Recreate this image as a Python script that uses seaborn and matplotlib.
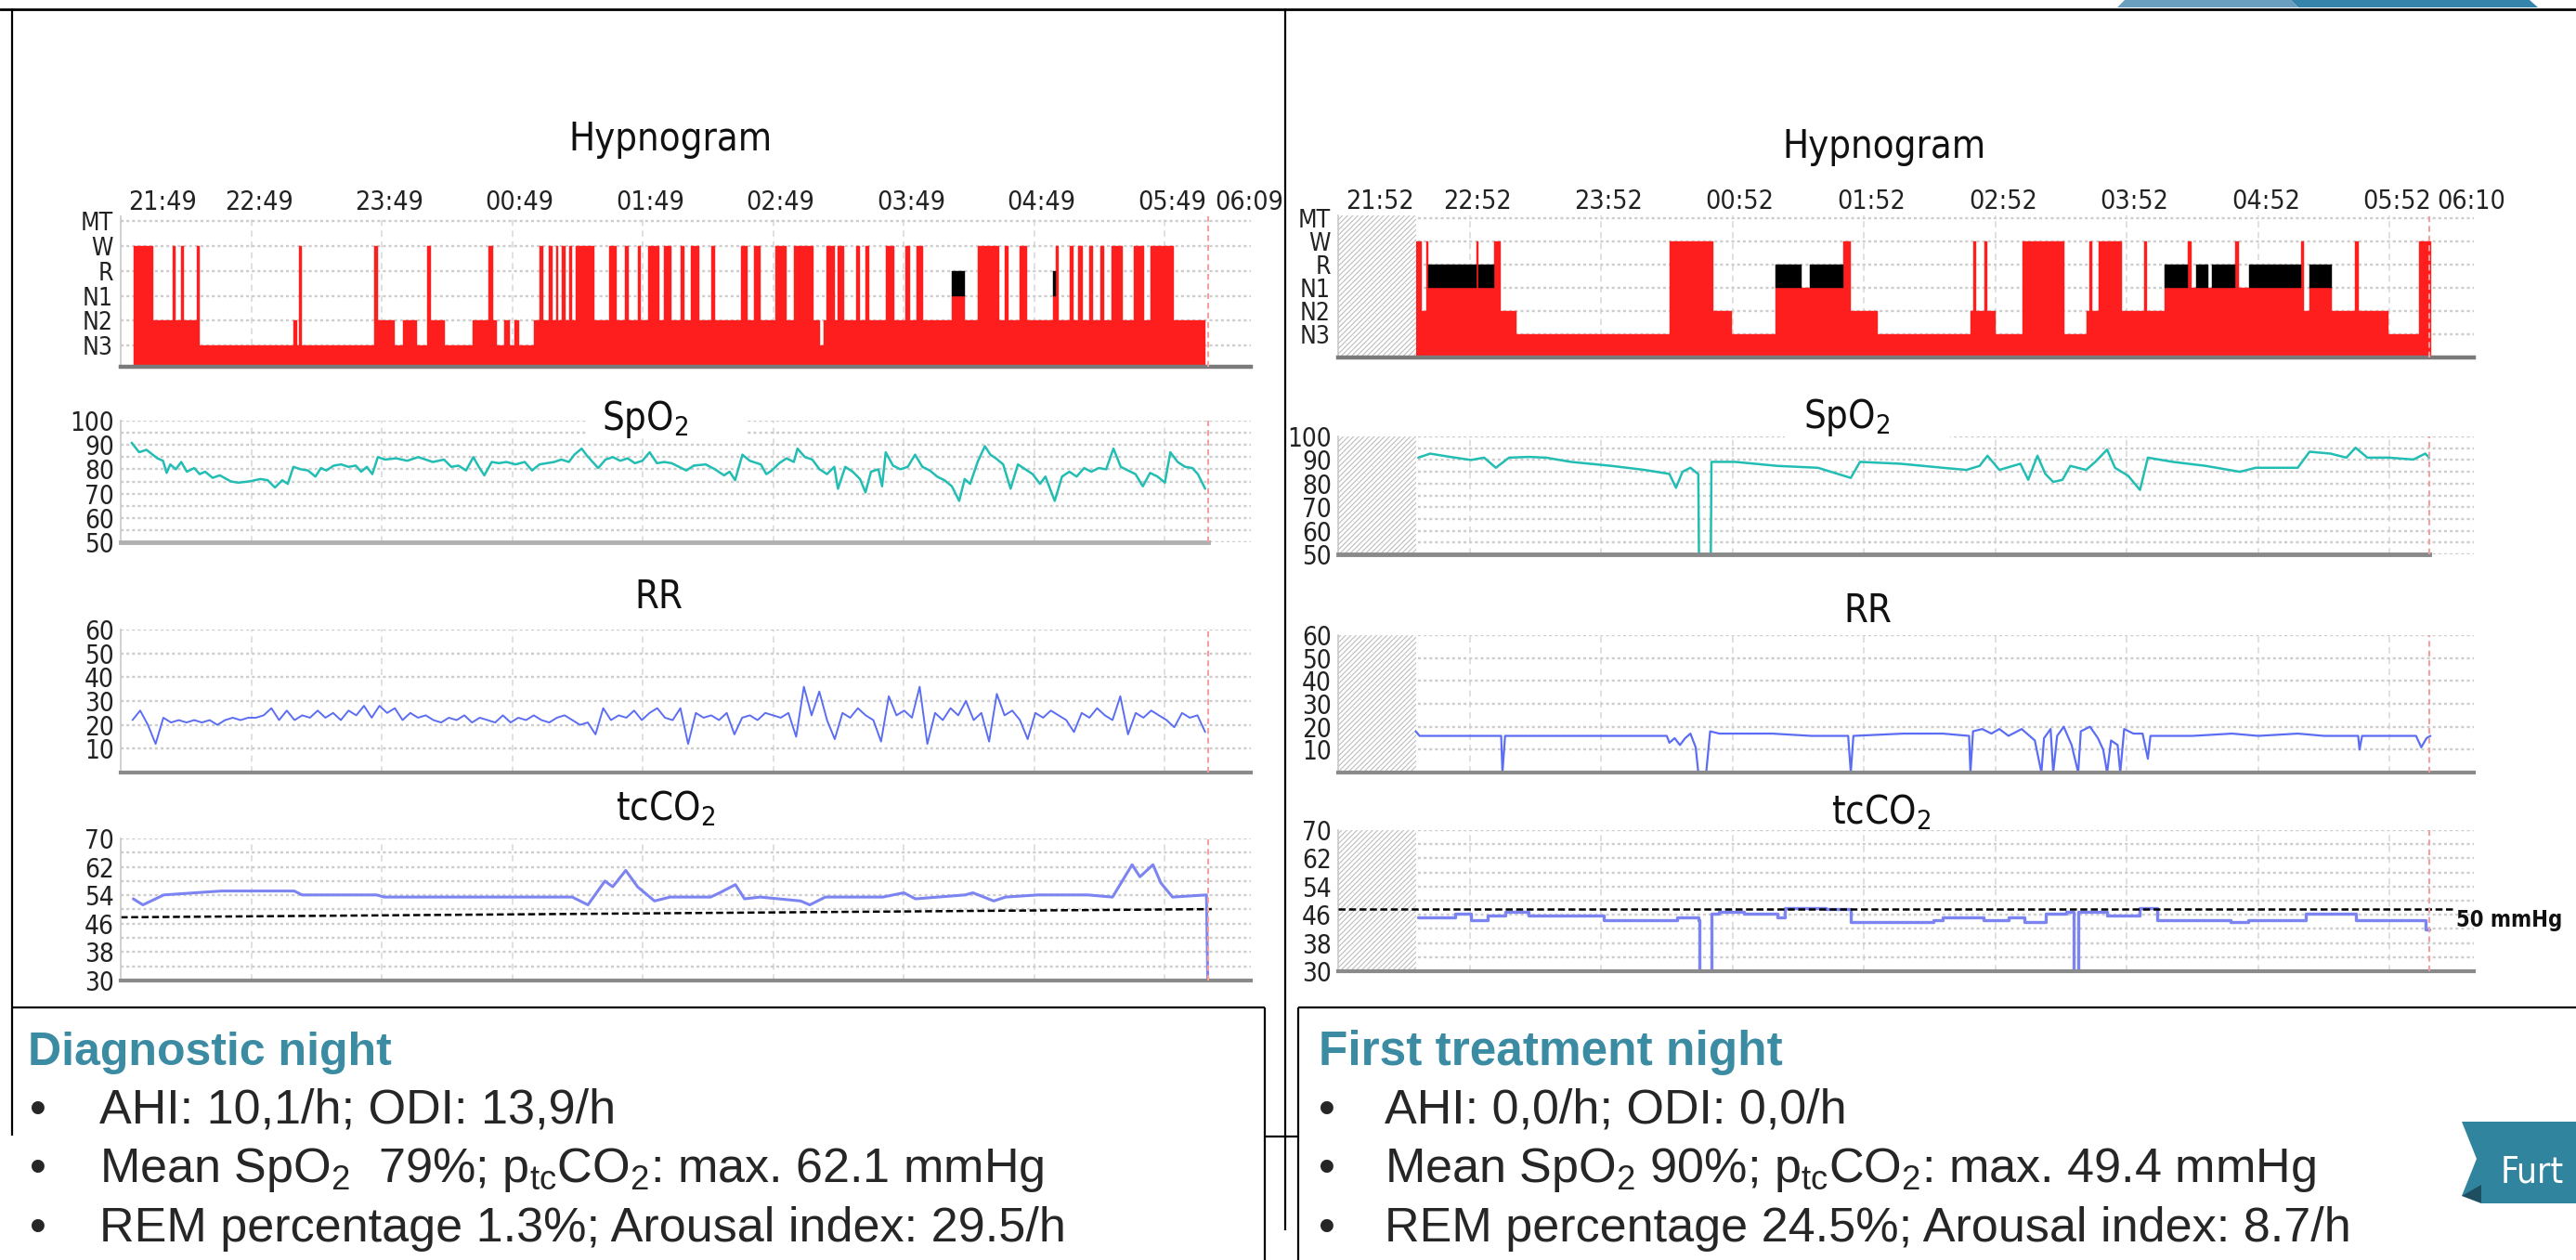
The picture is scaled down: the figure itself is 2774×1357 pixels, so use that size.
import numpy as np
import matplotlib
matplotlib.use("Agg")
import matplotlib.pyplot as plt
import seaborn as sns
from matplotlib.patches import Polygon, Rectangle
from matplotlib.transforms import ScaledTranslation

W, H = 2774, 1357
DPI = 100

RED = '#ff1e1e'
TEAL = '#22bdb3'
RR_BLUE = '#5b6df2'
CO2_BLUE = '#7c84f2'
GRID = '#cdcdcd'
HEAD = '#3b8ba3'

# ---------------- data ----------------
stage_names = ['N3', 'N2', 'N1', 'R', 'W', 'MT']
stage_level = {name: i for i, name in enumerate(stage_names)}

# time axis, in hours after the first label
left_tick_hours = [0, 1, 2, 3, 4, 5, 6, 7, 8, 8.33]
left_tick_labels = ['21:49', '22:49', '23:49', '00:49', '01:49', '02:49',
                    '03:49', '04:49', '05:49', '06:09']
right_tick_hours = [0, 1, 2, 3, 4, 5, 6, 7, 8, 8.30]
right_tick_labels = ['21:52', '22:52', '23:52', '00:52', '01:52', '02:52',
                     '03:52', '04:52', '05:52', '06:10']
left_end = 8.33
right_end = 8.30
right_rec_start = 0.59

# hypnogram, diagnostic night: segment start times (last = end) and stages
hyp_left_t = [0.10, 0.25, 0.395, 0.42, 0.465, 0.485, 0.58, 0.605, 1.32, 1.35,
              1.365, 1.385, 1.94, 1.97, 2.10, 2.16, 2.27, 2.35, 2.38, 2.48,
              2.70, 2.815, 2.85, 2.885, 2.94, 2.985, 3.02, 3.055, 3.17, 3.21,
              3.24, 3.28, 3.31, 3.335, 3.355, 3.38, 3.41, 3.435, 3.46, 3.49,
              3.63, 3.745, 3.80, 3.865, 3.89, 3.965, 3.985, 4.045, 4.125, 4.165,
              4.22, 4.29, 4.32, 4.37, 4.43, 4.525, 4.555, 4.75, 4.805, 4.85,
              4.905, 5.02, 5.10, 5.16, 5.31, 5.355, 5.385, 5.41, 5.47, 5.495,
              5.54, 5.635, 5.665, 5.705, 5.735, 5.86, 5.93, 6.015, 6.045, 6.10,
              6.145, 6.37, 6.47, 6.565, 6.735, 6.775, 6.805, 6.89, 6.945, 7.145,
              7.165, 7.19, 7.27, 7.30, 7.34, 7.37, 7.425, 7.45, 7.51, 7.535,
              7.595, 7.68, 7.76, 7.845, 7.89, 8.07, 8.31]
hyp_left_stage = ['W', 'N2', 'W', 'N2', 'W', 'N2', 'W', 'N3', 'N2', 'N3',
                  'W', 'N3', 'W', 'N2', 'N3', 'N2', 'N3', 'W', 'N2', 'N3',
                  'N2', 'W', 'N2', 'N3', 'N2', 'N3', 'N2', 'N3', 'N2', 'W',
                  'N2', 'W', 'N2', 'W', 'N2', 'W', 'N2', 'W', 'N2', 'W',
                  'N2', 'W', 'N2', 'W', 'N2', 'W', 'N2', 'W', 'N2', 'W',
                  'N2', 'W', 'N2', 'W', 'N2', 'W', 'N2', 'W', 'N2', 'W',
                  'N2', 'W', 'N2', 'W', 'N2', 'N3', 'N2', 'W', 'N2', 'W',
                  'N2', 'W', 'N2', 'W', 'N2', 'W', 'N2', 'W', 'N2', 'W',
                  'N2', 'R', 'N2', 'W', 'N2', 'W', 'N2', 'W', 'N2', 'R',
                  'W', 'N2', 'W', 'N2', 'W', 'N2', 'W', 'N2', 'W', 'N2',
                  'W', 'N2', 'W', 'N2', 'W', 'N2']

# hypnogram, first treatment night
hyp_right_t = [0.593, 0.637, 0.668, 0.687, 1.05, 1.07, 1.19, 1.234, 1.359, 2.521,
               2.854, 2.993, 3.326, 3.527, 3.589, 3.841, 3.903, 4.104, 4.814, 4.833,
               4.85, 4.92, 4.94, 5.003, 5.204, 5.524, 5.694, 5.713, 5.735, 5.788,
               5.964, 6.13, 6.15, 6.291, 6.466, 6.49, 6.529, 6.617, 6.649, 6.825,
               6.85, 6.931, 7.327, 7.345, 7.39, 7.559, 7.735, 7.767, 7.987, 8.225,
               8.313]
hyp_right_stage = ['W', 'N2', 'W', 'R', 'W', 'R', 'W', 'N2', 'N3', 'W',
                   'N2', 'N3', 'R', 'N1', 'R', 'W', 'N2', 'N3', 'N2', 'W',
                   'N2', 'W', 'N2', 'N3', 'W', 'N3', 'N2', 'W', 'N2', 'W',
                   'N2', 'W', 'N2', 'R', 'W', 'N1', 'R', 'N1', 'R', 'W',
                   'N1', 'R', 'W', 'N2', 'R', 'N2', 'W', 'N2', 'N3', 'W']

# SpO2, diagnostic night
spo2_left_t = [0.084, 0.141, 0.197, 0.281, 0.324, 0.352, 0.38, 0.422, 0.464, 0.507,
               0.563, 0.605, 0.647, 0.704, 0.76, 0.844, 0.9, 0.985, 1.07, 1.126,
               1.182, 1.238, 1.28, 1.323, 1.379, 1.435, 1.492, 1.534, 1.576, 1.632,
               1.689, 1.745, 1.801, 1.843, 1.886, 1.928, 1.97, 2.026, 2.111, 2.195,
               2.28, 2.336, 2.392, 2.477, 2.533, 2.589, 2.646, 2.702, 2.744, 2.786,
               2.843, 2.899, 2.955, 3.026, 3.096, 3.152, 3.209, 3.265, 3.321, 3.377,
               3.434, 3.476, 3.532, 3.574, 3.617, 3.659, 3.715, 3.771, 3.828, 3.884,
               3.94, 3.997, 4.053, 4.109, 4.165, 4.222, 4.278, 4.334, 4.391, 4.483,
               4.553, 4.623, 4.666, 4.708, 4.764, 4.82, 4.905, 4.947, 4.989, 5.046,
               5.102, 5.158, 5.186, 5.243, 5.299, 5.355, 5.412, 5.468, 5.496, 5.552,
               5.609, 5.665, 5.707, 5.749, 5.806, 5.834, 5.862, 5.918, 5.974, 6.031,
               6.087, 6.143, 6.2, 6.256, 6.312, 6.369, 6.425, 6.467, 6.509, 6.566,
               6.622, 6.664, 6.706, 6.762, 6.819, 6.875, 6.931, 6.988, 7.044, 7.086,
               7.157, 7.213, 7.269, 7.325, 7.382, 7.438, 7.494, 7.551, 7.607, 7.663,
               7.72, 7.776, 7.832, 7.888, 7.945, 8.001, 8.043, 8.099, 8.156, 8.212,
               8.254, 8.31]
spo2_left = [90.9, 87, 88, 84.5, 83.5, 78.5, 82, 80, 83, 79,
             80.5, 78, 79, 76.5, 77.5, 75, 74.5, 75, 76, 75.5,
             72.5, 75.5, 74, 81, 80, 79.5, 77, 80.5, 79.5, 81.5,
             82, 81, 81.5, 79, 81, 78, 85, 84, 84.5, 83.5,
             85, 84, 83, 84, 81, 81.5, 79.5, 85, 81, 77.5,
             83, 82.5, 83, 82, 83, 79.5, 82, 82.5, 83, 84,
             83, 86, 88.5, 85.5, 83, 80.5, 84, 85, 83.5, 84.5,
             82.5, 83.5, 87, 82.5, 83, 82.5, 81, 79.5, 81.5, 82,
             80, 77.5, 79, 75.5, 86, 83.5, 82, 78, 79.5, 82.5,
             84.5, 83, 88.5, 85, 84, 80, 78, 81, 72, 81,
             79, 76, 70.5, 79, 80, 73, 87, 81.5, 80, 81,
             86, 81, 79.5, 77, 75.5, 73, 67, 76, 74, 83,
             89.5, 86, 84.5, 82, 72, 82, 80, 78, 74, 77,
             67, 77, 79, 77, 80.5, 79, 80.5, 80, 88.5, 81,
             79.5, 78, 73, 78.5, 77, 74.5, 87, 83, 81, 80.5,
             78, 72]

# respiratory rate, diagnostic night (evenly sampled from 0.09 h to 8.31 h)
rr_left = [22, 26, 20, 12, 23, 21, 22, 21, 22, 21, 22, 20, 22, 23, 22, 23,
           23, 24, 27, 22, 26, 22, 24, 23, 26, 23, 25, 22, 26, 24, 28, 23, 28,
           25, 27, 22, 25, 23, 24, 22, 21, 23, 22, 24, 21, 23, 22, 21, 24, 21,
           23, 22, 24, 22, 21, 23, 24, 22, 20, 21, 16, 27, 22, 24, 23, 26, 22,
           25, 27, 23, 22, 27, 12, 25, 23, 24, 22, 25, 16, 23, 24, 22, 25, 24,
           23, 25, 15, 36, 24, 34, 22, 14, 25, 23, 27, 24, 22, 13, 32, 24, 26,
           23, 36, 12, 25, 22, 27, 24, 30, 22, 25, 13, 33, 24, 26, 22, 14, 25,
           23, 26, 24, 22, 17, 25, 23, 27, 24, 22, 32, 16, 25, 23, 26, 24, 22,
           19, 25, 23, 24, 17]
rr_left_span = (0.09, 8.31)

# tcCO2, diagnostic night
co2_left_t = [0.096, 0.17, 0.33, 0.77, 1.33, 1.39, 1.96, 2.02, 3.46, 3.58,
              3.71, 3.77, 3.87, 3.96, 4.09, 4.21, 4.52, 4.59, 4.71, 4.78,
              4.90, 5.21, 5.28, 5.40, 5.84, 6.00, 6.09, 6.47, 6.53, 6.69,
              6.78, 7.03, 7.41, 7.60, 7.75, 7.81, 7.91, 7.97, 8.06, 8.32,
              8.33]
co2_left = [53, 51.3, 54.1, 55.2, 55.2, 54.1, 54.1, 53.5, 53.5, 51.3,
            58, 56.4, 61, 56.4, 52.4, 53.5, 53.5, 54.7, 57, 53,
            53.5, 52.4, 51.3, 53.5, 53.5, 54.7, 53, 54.1, 54.7, 52.4,
            53.5, 54.1, 54.1, 53.5, 62.6, 59.2, 62.6, 57.5, 53.5, 54.1,
            30]
left_ref_mmHg = [47.8, 50.1]

# SpO2, first treatment night
spo2_right_t = [0.61, 0.70, 0.83, 1.01, 1.11, 1.20, 1.30, 1.45, 1.58, 1.77,
                2.08, 2.33, 2.52, 2.57, 2.62, 2.68, 2.74, 2.745, 2.835, 2.84,
                3.02, 3.34, 3.65, 3.90, 3.97, 4.28, 4.60, 4.78, 4.88, 4.94,
                5.03, 5.19, 5.25, 5.32, 5.38, 5.44, 5.51, 5.57, 5.69, 5.76,
                5.85, 5.91, 6.01, 6.10, 6.16, 6.35, 6.60, 6.86, 6.98, 7.30,
                7.39, 7.55, 7.67, 7.74, 7.83, 7.99, 8.18, 8.27, 8.30]
spo2_right = [91, 92.7, 91.5, 90, 91, 86.7, 91, 91.3, 91, 89.2,
              87.5, 85.8, 84.1, 78.2, 85, 86.7, 84, 50, 50, 89.2,
              89.2, 87.5, 86.7, 82.4, 89.2, 88.4, 86.7, 85.8, 87.5, 91.8,
              85.8, 88.4, 81.6, 91.8, 84.1, 80.7, 81.6, 87.5, 85.8, 89.2,
              94.4, 86.7, 83.3, 77.3, 91, 89.2, 87.5, 85, 86.7, 86.7,
              93.5, 92.7, 91, 95.2, 91, 91, 90.2, 92.7, 91]

# respiratory rate, first treatment night
rr_right_t = [0.59, 0.62, 1.24, 1.25, 1.27, 2.50, 2.52, 2.56, 2.60, 2.64,
              2.68, 2.72, 2.74, 2.80, 2.83, 2.90, 3.30, 3.60, 3.88, 3.90,
              3.92, 4.30, 4.60, 4.80, 4.81, 4.83, 4.90, 4.97, 5.03, 5.10,
              5.20, 5.30, 5.35, 5.37, 5.42, 5.44, 5.47, 5.52, 5.58, 5.63,
              5.65, 5.72, 5.78, 5.82, 5.85, 5.88, 5.93, 5.95, 5.98, 6.05,
              6.12, 6.16, 6.18, 6.50, 6.80, 7.00, 7.30, 7.50, 7.76, 7.77,
              7.79, 8.20, 8.24, 8.28, 8.31]
rr_right = [18, 16, 16, 0, 16, 16, 13, 15, 12, 15,
            17, 11, 0, 0, 18, 17, 17, 16, 16, 0,
            16, 17, 17, 16, 0, 18, 19, 17, 19, 16,
            19, 14, 0, 15, 19, 0, 16, 20, 12, 0,
            18, 20, 15, 10, 0, 14, 12, 0, 19, 17,
            17, 6, 16, 16, 17, 16, 17, 16, 16, 10,
            16, 16, 11, 15, 16]

# tcCO2, first treatment night
co2_right_t = [0.61, 0.83, 0.89, 1.01, 1.14, 1.27, 1.45, 2.02, 2.58, 2.74,
               2.75, 2.83, 2.84, 2.90, 3.09, 3.34, 3.40, 3.71, 3.90, 4.53,
               4.60, 4.91, 5.10, 5.22, 5.38, 5.54, 5.595, 5.61, 5.63, 5.85,
               6.10, 6.23, 6.79, 6.92, 7.36, 7.55, 7.74, 8.02, 8.27, 8.30]
co2_right = [45.2, 45.2, 46.3, 44.6, 45.8, 46.9, 45.8, 44.6, 45.2, 44.6,
             30, 30, 46.3, 46.9, 46.3, 45.2, 48, 47.5, 44, 44.6,
             45.2, 44.6, 45.2, 44, 46.3, 46.9, 30, 30, 46.9, 45.8,
             48, 44.6, 44, 44.6, 46.3, 46.3, 44.6, 44.6, 41.8, 41.8]
right_ref_mmHg = 47.5

left_heading = 'Diagnostic night'
left_lines = ['AHI: 10,1/h; ODI: 13,9/h',
              'Mean SpO$_2$  79%; p$_{tc}$CO$_2$: max. 62.1 mmHg',
              'REM percentage 1.3%; Arousal index: 29.5/h']
right_heading = 'First treatment night'
right_lines = ['AHI: 0,0/h; ODI: 0,0/h',
               'Mean SpO$_2$ 90%; p$_{tc}$CO$_2$: max. 49.4 mmHg',
               'REM percentage 24.5%; Arousal index: 8.7/h']

# ---------------- style ----------------
sns.set_theme(style="white")
plt.rcParams['font.family'] = ['DejaVu Sans']
plt.rcParams['font.stretch'] = 'condensed'
plt.rcParams['mathtext.default'] = 'regular'
plt.rcParams['hatch.color'] = '#bdbdbd'
plt.rcParams['hatch.linewidth'] = 0.8

fig = plt.figure(figsize=(W / DPI, H / DPI), dpi=DPI)


def px_axes(x0, y0, x1, y1, **kw):
    return fig.add_axes([x0 / W, 1 - y1 / H, (x1 - x0) / W, (y1 - y0) / H], **kw)


def base_panel(ax, xmax, ylim, end, spine_end=None, bottom_color='#8a8a8a', bottom_lw=3.0):
    ax.set_xlim(0, xmax)
    ax.set_ylim(*ylim)
    ax.set_axisbelow(True)
    for s in ['top', 'right']:
        ax.spines[s].set_visible(False)
    ax.spines['left'].set_color('#c8c8c8')
    ax.spines['left'].set_linewidth(1.2)
    ax.spines['bottom'].set_color(bottom_color)
    ax.spines['bottom'].set_linewidth(bottom_lw)
    if spine_end is not None:
        ax.spines['bottom'].set_bounds(0, spine_end)
    ax.grid(axis='y', which='both', color=GRID, linestyle=(0, (1.3, 1.3)), linewidth=1.7)
    ax.grid(axis='x', visible=False)
    for h in range(1, 9):
        ax.axvline(h, color='#dadada', linestyle=(0, (4, 3)), linewidth=1.2, zorder=0.5)
    ax.axvline(end, color='#f5a0a0', linestyle=(0, (3, 2)), linewidth=1.5, zorder=4)
    ax.tick_params(axis='y', which='major', length=0, pad=5, labelsize=20, labelcolor='#222222')
    ax.tick_params(axis='y', which='minor', length=0)
    ax.tick_params(axis='x', which='both', length=0, labelbottom=False)
    ax.set(xlabel=None, ylabel=None)


def hatch_start(ax, start):
    ax.axvspan(0, start, facecolor='white', edgecolor='#bdbdbd', hatch='//////',
               linewidth=0, zorder=1.5)


def draw_hypnogram(ax, t, stages, bottom):
    t = np.asarray(t)
    lv = np.array([stage_level[s] for s in stages])
    widths = np.diff(t)
    red_top = np.where(lv == stage_level['R'], stage_level['N1'], lv)
    ax.bar(t[:-1], red_top - bottom, width=widths, bottom=bottom, align='edge',
           color=RED, edgecolor=RED, linewidth=0.3, zorder=1)
    rem = lv == stage_level['R']
    ax.bar(t[:-1][rem], 1, width=widths[rem], bottom=stage_level['N1'], align='edge',
           color='black', edgecolor='black', linewidth=0.3, zorder=1)
    ax.set_yticks(range(len(stage_names)), stage_names)
    ax.tick_params(axis='y', labelsize=19, pad=6)


def time_axis(ax, hours, labels):
    ax.xaxis.tick_top()
    ax.set_xticks(hours, labels)
    ax.tick_params(axis='x', length=0, pad=1, labelsize=20.5, labeltop=True,
                   labelbottom=False, labelcolor='#222222')
    shift = ScaledTranslation(0.08, 0, fig.dpi_scale_trans)
    labs = ax.get_xticklabels()
    for i, lab in enumerate(labs):
        lab.set_transform(lab.get_transform() + shift)
        if i == 0 or i == len(labs) - 1:
            lab.set_ha('left')


# ---------------- left: diagnostic night ----------------
XL0, XL1, XMAX_L = 130, 1347, 8.66

ax = px_axes(XL0, 233, XL1, 395)
base_panel(ax, XMAX_L, (-0.85, 5.19), left_end, bottom_color='#7a7a7a', bottom_lw=3.2)
draw_hypnogram(ax, hyp_left_t, hyp_left_stage, -0.85)
time_axis(ax, left_tick_hours, left_tick_labels)

ax = px_axes(XL0, 453, XL1, 584)
base_panel(ax, XMAX_L, (50, 100), left_end, spine_end=left_end, bottom_color='#b0b0b0', bottom_lw=3.5)
sns.lineplot(x=spo2_left_t, y=spo2_left, ax=ax, color=TEAL, linewidth=1.8,
             estimator=None, sort=False)
ax.set_yticks([50, 60, 70, 80, 90, 100])
ax.set_yticks([55, 65, 75, 85, 95], minor=True)

ax = px_axes(XL0, 678, XL1, 832)
base_panel(ax, XMAX_L, (0, 60), left_end)
rr_t = np.linspace(rr_left_span[0], rr_left_span[1], len(rr_left))
sns.lineplot(x=rr_t, y=rr_left, ax=ax, color=RR_BLUE, linewidth=1.4,
             estimator=None, sort=False)
ax.set_yticks([10, 20, 30, 40, 50, 60])

ax = px_axes(XL0, 903, XL1, 1056)
base_panel(ax, XMAX_L, (30, 70), left_end)
sns.lineplot(x=co2_left_t, y=co2_left, ax=ax, color=CO2_BLUE, linewidth=2.2,
             estimator=None, sort=False)
sns.lineplot(x=[0, 8.36], y=left_ref_mmHg, ax=ax, color='black', linewidth=1.8,
             linestyle=(0, (3, 1.5)), estimator=None, sort=False)
ax.set_yticks([30, 38, 46, 54, 62, 70])
ax.set_yticks([34, 42, 50, 58, 66], minor=True)

# ---------------- right: first treatment night ----------------
XR0, XR1, XMAX_R = 1441, 2664, 8.64

ax = px_axes(XR0, 232, XR1, 385)
base_panel(ax, XMAX_R, (-1.0, 5.12), right_end, bottom_color='#7a7a7a', bottom_lw=3.2)
hatch_start(ax, right_rec_start)
draw_hypnogram(ax, hyp_right_t, hyp_right_stage, -1.0)
time_axis(ax, right_tick_hours, right_tick_labels)

ax = px_axes(XR0, 470, XR1, 597)
base_panel(ax, XMAX_R, (50, 100), right_end, spine_end=right_end, bottom_color='#8a8a8a', bottom_lw=3.5)
hatch_start(ax, right_rec_start)
sns.lineplot(x=spo2_right_t, y=spo2_right, ax=ax, color=TEAL, linewidth=1.8,
             estimator=None, sort=False)
ax.set_yticks([50, 60, 70, 80, 90, 100])
ax.set_yticks([55, 65, 75, 85, 95], minor=True)

ax = px_axes(XR0, 684, XR1, 832)
base_panel(ax, XMAX_R, (0, 60), right_end)
hatch_start(ax, right_rec_start)
sns.lineplot(x=rr_right_t, y=rr_right, ax=ax, color=RR_BLUE, linewidth=1.6,
             estimator=None, sort=False)
ax.set_yticks([10, 20, 30, 40, 50, 60])

ax = px_axes(XR0, 894, XR1, 1046)
base_panel(ax, XMAX_R, (30, 70), right_end)
hatch_start(ax, right_rec_start)
sns.lineplot(x=co2_right_t, y=co2_right, ax=ax, color=CO2_BLUE, linewidth=2.4,
             estimator=None, sort=False, drawstyle='steps-post')
ax.axhline(right_ref_mmHg, xmin=0, xmax=8.5 / XMAX_R, color='black', linewidth=1.8,
           linestyle=(0, (3, 1.5)), zorder=3)
ax.set_yticks([30, 38, 46, 54, 62, 70])
ax.set_yticks([34, 42, 50, 58, 66], minor=True)

# ---------------- overlay: titles, frames, text ----------------
ov = fig.add_axes([0, 0, 1, 1], zorder=10)
ov.set_xlim(0, W)
ov.set_ylim(H, 0)
ov.axis('off')

title_kw = dict(ha='center', va='center', fontsize=30, color='#111111')
ov.text(722, 150, 'Hypnogram', **title_kw)
ov.text(2029, 158, 'Hypnogram', **title_kw)
ov.add_patch(Rectangle((632, 426), 173, 46, facecolor='white', edgecolor='none'))
ov.add_patch(Rectangle((1922, 432), 178, 48, facecolor='white', edgecolor='none'))
ov.text(695, 452, 'SpO$_2$', **title_kw)
ov.text(1989, 450, 'SpO$_2$', **title_kw)
ov.text(709, 643, 'RR', **title_kw)
ov.text(2011, 658, 'RR', **title_kw)
ov.text(717, 871, 'tcCO$_2$', **title_kw)
ov.text(2026, 875, 'tcCO$_2$', **title_kw)
ov.text(2645, 991, '50 mmHg', ha='left', va='center', fontsize=17, fontweight='bold',
        color='#111111')

line_kw = dict(color='black', linewidth=1.6, solid_capstyle='butt')
ov.plot([0, W], [9.5, 9.5], color='black', linewidth=2.0)
ov.plot([13, 13], [9, 1223], **line_kw)
ov.plot([1384, 1384], [9, 1325], **line_kw)
ov.plot([13, 1362], [1085, 1085], **line_kw)
ov.plot([1362, 1362], [1085, H], **line_kw)
ov.plot([1362, 1398], [1224, 1224], **line_kw)
ov.plot([1398, 1398], [1085, H], **line_kw)
ov.plot([1398, W], [1085, 1085], **line_kw)

# header ribbon (top right)
ov.add_patch(Polygon([(2288, 0), (2467, 0), (2475, 8), (2280, 8)], closed=True,
                     facecolor='#6a9fc0', edgecolor='none'))
ov.add_patch(Polygon([(2467, 0), (2724, 0), (2733, 8), (2475, 8)], closed=True,
                     facecolor='#3584ab', edgecolor='none'))

# text boxes
body = dict(family='Liberation Sans', fontstretch='normal', ha='left', va='baseline')
ov.text(30, 1147, left_heading, fontsize=36, fontweight='bold', color=HEAD, **body)
ov.text(1420, 1147, right_heading, fontsize=37, fontweight='bold', color=HEAD, **body)
for base, ltxt, rtxt in zip([1210, 1273, 1337], left_lines, right_lines):
    ov.text(32, base, '\u2022', fontsize=37, **body)
    ov.text(107, base, ltxt, fontsize=37.5, **body)
    ov.text(1420, base, '\u2022', fontsize=37, **body)
    ov.text(1491, base, rtxt, fontsize=37.5, **body)

# "Further" tab at right edge
ov.add_patch(Polygon([(2651, 1208), (W, 1208), (W, 1296), (2672, 1296), (2672, 1288),
                      (2651, 1288), (2667, 1248)], closed=True,
                     facecolor='#31849e', edgecolor='none'))
ov.add_patch(Polygon([(2651, 1288), (2672, 1276), (2672, 1296)], closed=True,
                     facecolor='#1d4f60', edgecolor='none'))
ov.text(2693, 1262, 'Furt', fontsize=28, color='white', ha='left', va='center')

fig.savefig('out.png', dpi=DPI)
